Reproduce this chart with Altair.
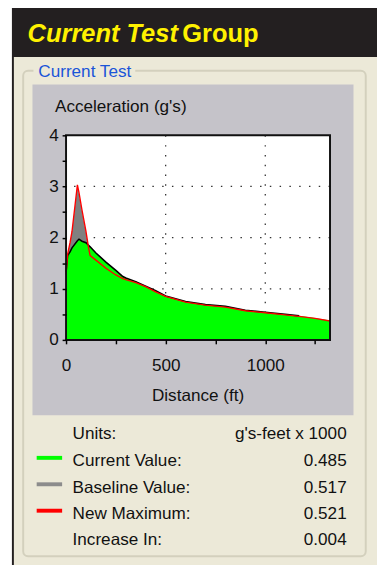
import altair as alt
import pandas as pd

# ---------------- data ----------------
distance = [0, 8, 20, 30, 57, 65, 80, 100, 113, 121, 150, 200, 250, 285, 300, 350,
            400, 450, 500, 600, 700, 800, 900, 1000, 1100, 1170, 1250, 1325]
current = [1.33, 1.65, 1.72, 1.80, 1.94, 1.97, 1.93, 1.90, 1.85, 1.82, 1.70, 1.52,
           1.36, 1.24, 1.21, 1.14, 1.05, 0.96, 0.86, 0.75, 0.69, 0.66, 0.58, 0.54,
           0.50, 0.47, 0.43, 0.38]
baseline = [1.28, 1.66, 1.90, 2.12, 3.00, 2.85, 2.52, 2.10, 1.80, 1.65, 1.55, 1.39,
            1.26, 1.19, 1.17, 1.11, 1.03, 0.93, 0.84, 0.73, 0.67, 0.63, 0.56, 0.52,
            0.48, 0.45, 0.41, 0.36]
new_max = [1.28, 1.68, 1.90, 2.12, 3.03, 2.88, 2.54, 2.12, 1.80, 1.65, 1.56, 1.40,
           1.27, 1.20, 1.18, 1.12, 1.04, 0.94, 0.85, 0.74, 0.68, 0.64, 0.57, 0.53,
           0.49, 0.46, 0.42, 0.37]

grid_x = [500, 1000]
grid_y = [1, 2, 3]
x_ticks = [0, 250, 500, 750, 1000, 1250]
y_ticks = [0, 0.5, 1, 1.5, 2, 2.5, 3, 3.5, 4]

row_labels = ["Units:", "Current Value:", "Baseline Value:", "New Maximum:", "Increase In:"]
row_values = ["g's-feet x 1000", "0.485", "0.517", "0.521", "0.004"]
swatch_colors = ["", "#00FF00", "#8C8C8C", "#FF0000", ""]

# ---------------- layout helpers (plot origin = page 67.3,132) ----------------
W, H = 269.7, 209
OX, OY = 67.3, 132
FONT = "Liberation Sans"
FS = 17.5

one = pd.DataFrame({"k": [0]})


def px(p):
    return p - OX


def py(p):
    return p - OY


def rect(x1, x2, y1, y2, **kw):
    return alt.Chart(one).mark_rect(**kw).encode(
        x=alt.value(px(x1)), x2=alt.value(px(x2)),
        y=alt.value(py(y1)), y2=alt.value(py(y2)))


def text(s, x, y, align="left", **kw):
    opts = dict(font=FONT, fontSize=FS, color="#111111", baseline="alphabetic")
    opts.update(kw)
    return alt.Chart(one).mark_text(text=s, align=align, **opts).encode(
        x=alt.value(px(x)), y=alt.value(py(y)))


layers = []
# frame / panels
layers.append(rect(12, 385, 0, 571, color="#231F20"))
layers.append(rect(14, 385, 52, 571, color="#ECE9D8"))
layers.append(rect(23.5, 373.5, 66, 562, fillOpacity=0, stroke="#D3D0BD",
                   strokeWidth=2, cornerRadius=5))
layers.append(rect(34, 138, 60, 73, color="#ECE9D8"))
layers.append(text("Current Test", 39, 72.7, color="#1A55D8"))
layers.append(rect(33, 361, 80, 418, color="#C5C3C9"))
layers.append(rect(OX, OX + W, OY, OY + H, color="white"))

# title
layers.append(text("Current Test", 28, 37, fontSize=26, fontWeight="bold",
                   fontStyle="italic", color="#FFF100"))
layers.append(text("Group", 186, 37, fontSize=26, fontWeight="bold", color="#FFF100"))

# axis titles
layers.append(text("Acceleration (g's)", 56, 108))
layers.append(text("Distance (ft)", OX + W / 2, 403, align="center"))

# ---------------- chart data ----------------
df = pd.DataFrame({"distance": distance, "current": current,
                   "baseline": baseline, "new_max": new_max})

xs = alt.Scale(domain=[0, 1325], nice=False, zero=False)
ys = alt.Scale(domain=[0, 4], nice=False)

x_axis = alt.Axis(values=x_ticks, title=None, grid=False, domain=False,
                  labelExpr="datum.value % 500 == 0 ? format(datum.value, 'd') : ''",
                  tickSize=4, tickWidth=1.5, tickColor="black",
                  labelFont=FONT, labelFontSize=FS, labelColor="#111111",
                  labelPadding=13, labelOverlap=False, labelFlush=False, zindex=1)
y_axis = alt.Axis(values=y_ticks, title=None, grid=False, domain=False,
                  labelExpr="datum.value % 1 == 0 ? format(datum.value, 'd') : ''",
                  tickSize=4, tickWidth=1.5, tickColor="black",
                  labelFont=FONT, labelFontSize=FS, labelColor="#111111",
                  labelPadding=4, labelOverlap=False, labelFlush=False, zindex=1)

gx = pd.DataFrame({"distance": grid_x})
gy = pd.DataFrame({"value": grid_y})
layers.append(alt.Chart(gx).mark_rule(color="#333333", strokeWidth=1.3,
                                      strokeDash=[1.5, 8.5]).encode(
    x=alt.X("distance:Q", scale=xs, axis=x_axis)))
layers.append(alt.Chart(gy).mark_rule(color="#333333", strokeWidth=1.3,
                                      strokeDash=[1.5, 8.5]).encode(
    y=alt.Y("value:Q", scale=ys, axis=y_axis)))

base = alt.Chart(df)
layers.append(base.mark_area(color="#808080", opacity=1).encode(
    x=alt.X("distance:Q", scale=xs, axis=x_axis),
    y=alt.Y("baseline:Q", scale=ys, axis=y_axis)))
layers.append(base.mark_area(color="#00FF00", opacity=1).encode(
    x=alt.X("distance:Q", scale=xs, axis=x_axis),
    y=alt.Y("current:Q", scale=ys, axis=y_axis)))
layers.append(base.transform_filter("datum.distance <= 1170").mark_line(
    color="black", strokeWidth=1.6).encode(
    x=alt.X("distance:Q", scale=xs, axis=x_axis),
    y=alt.Y("current:Q", scale=ys, axis=y_axis)))
layers.append(base.mark_line(color="#FF0000", strokeWidth=1.4).encode(
    x=alt.X("distance:Q", scale=xs, axis=x_axis),
    y=alt.Y("new_max:Q", scale=ys, axis=y_axis)))

# plot border
layers.append(rect(OX, OX + W, OY, OY + H, fillOpacity=0, stroke="#111111",
                   strokeWidth=2))

# info rows
baselines = [442, 470, 497, 524, 551]
for lab, val, col, yb in zip(row_labels, row_values, swatch_colors, baselines):
    layers.append(text(lab, 74, yb))
    layers.append(text(val, 354, yb, align="right"))
    if col:
        layers.append(alt.Chart(one).mark_rule(color=col, strokeWidth=4).encode(
            x=alt.value(px(37.3)), x2=alt.value(px(63.3)), y=alt.value(py(yb - 8.5))))

chart = alt.layer(*layers).properties(
    width=W, height=H,
    autosize=alt.AutoSizeParams(type="none"),
    padding={"left": OX - 8, "top": OY - 8, "right": 377 - (OX - 8) - W,
             "bottom": 563 - (OY - 8) - H},
).configure_view(strokeWidth=0)

chart.save("out.html", embed_options={"renderer": "svg", "actions": False})
